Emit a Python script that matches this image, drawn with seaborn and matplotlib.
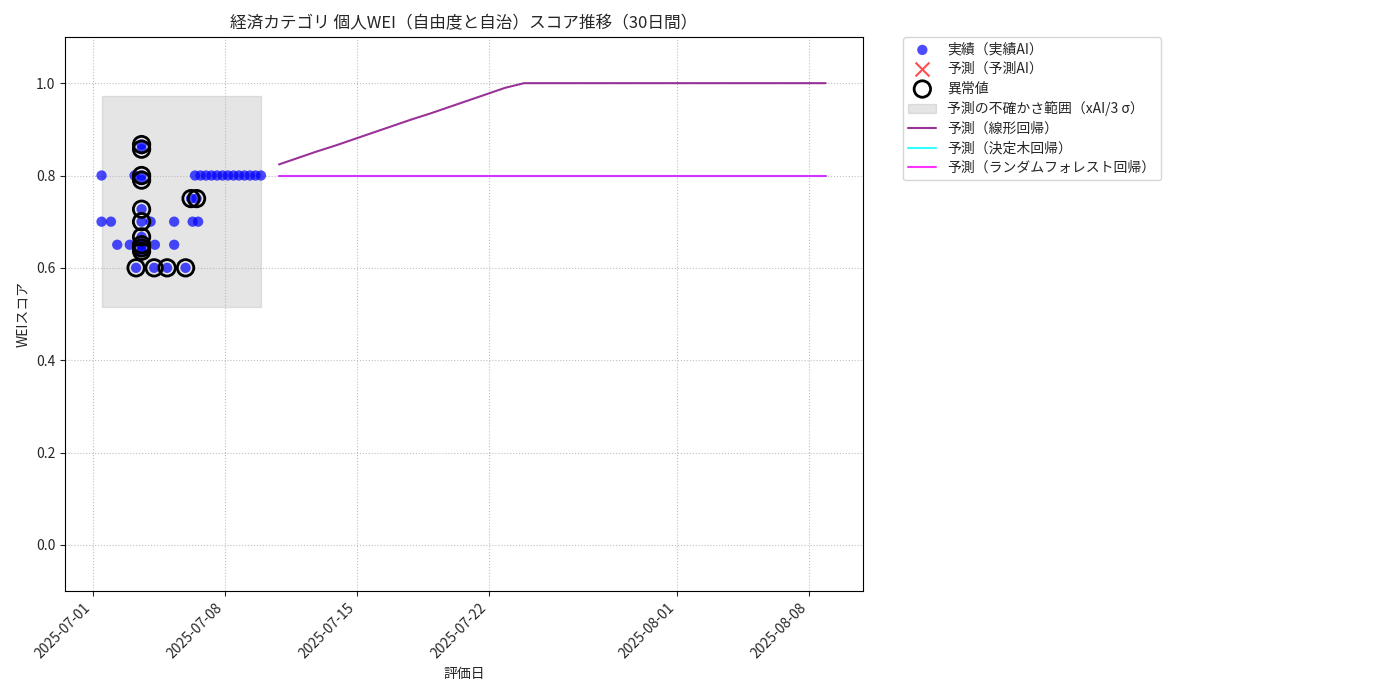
import pandas as pd
import seaborn as sns
import matplotlib.pyplot as plt
import matplotlib.dates as mdates

# actual scores (実績AI)
actual_dates = [
    '2025-07-01 11:00', '2025-07-01 11:00', '2025-07-01 23:00', '2025-07-02 07:00',
    '2025-07-02 23:00', '2025-07-03 07:00', '2025-07-03 05:00',
    '2025-07-03 14:00', '2025-07-03 14:00', '2025-07-03 14:00', '2025-07-03 14:00',
    '2025-07-03 14:00', '2025-07-03 14:00', '2025-07-03 14:00', '2025-07-03 14:00',
    '2025-07-03 14:00', '2025-07-03 14:00',
    '2025-07-04 01:30', '2025-07-04 06:00', '2025-07-04 07:00', '2025-07-04 22:30',
    '2025-07-05 07:30', '2025-07-05 07:30', '2025-07-05 22:00',
    '2025-07-06 05:00', '2025-07-06 07:00', '2025-07-06 12:00', '2025-07-06 14:00',
    '2025-07-06 10:00', '2025-07-06 17:00', '2025-07-07 00:00', '2025-07-07 07:00',
    '2025-07-07 14:00', '2025-07-07 21:00', '2025-07-08 04:00', '2025-07-08 11:00',
    '2025-07-08 18:00', '2025-07-09 01:00', '2025-07-09 08:00', '2025-07-09 15:00',
    '2025-07-09 22:00',
]
actual_scores = [
    0.80, 0.70, 0.70, 0.65,
    0.65, 0.60, 0.80,
    0.867, 0.857, 0.80, 0.79,
    0.727, 0.70, 0.667, 0.65,
    0.643, 0.636,
    0.70, 0.60, 0.65, 0.60,
    0.70, 0.65, 0.60,
    0.75, 0.70, 0.75, 0.70,
    0.80, 0.80, 0.80, 0.80,
    0.80, 0.80, 0.80, 0.80,
    0.80, 0.80, 0.80, 0.80,
    0.80,
]
is_anomaly = [
    False, False, False, False,
    False, True, False,
    True, True, True, True,
    True, True, True, True,
    True, True,
    False, True, False, True,
    False, False, True,
    True, False, True, False,
    False, False, False, False,
    False, False, False, False,
    False, False, False, False,
    False,
]

# uncertainty band (xAI / 3 sigma)
band_low = 0.515
band_high = 0.972

# 30-day forecasts
pred_dates = pd.date_range('2025-07-10 21:00', periods=30, freq='D')
pred_linear = [0.824, 0.838, 0.852, 0.865, 0.879, 0.893, 0.907, 0.921, 0.934, 0.948,
               0.962, 0.976, 0.990, 1.0, 1.0, 1.0, 1.0, 1.0, 1.0, 1.0,
               1.0, 1.0, 1.0, 1.0, 1.0, 1.0, 1.0, 1.0, 1.0, 1.0]
pred_tree = [0.8, 0.8, 0.8, 0.8, 0.8, 0.8, 0.8, 0.8, 0.8, 0.8,
             0.8, 0.8, 0.8, 0.8, 0.8, 0.8, 0.8, 0.8, 0.8, 0.8,
             0.8, 0.8, 0.8, 0.8, 0.8, 0.8, 0.8, 0.8, 0.8, 0.8]
pred_forest = [0.8, 0.8, 0.8, 0.8, 0.8, 0.8, 0.8, 0.8, 0.8, 0.8,
               0.8, 0.8, 0.8, 0.8, 0.8, 0.8, 0.8, 0.8, 0.8, 0.8,
               0.8, 0.8, 0.8, 0.8, 0.8, 0.8, 0.8, 0.8, 0.8, 0.8]

df = pd.DataFrame({'date': pd.to_datetime(actual_dates), 'score': actual_scores, 'anomaly': is_anomaly})
df_pred = pd.DataFrame({'date': pred_dates, 'linear': pred_linear, 'tree': pred_tree, 'forest': pred_forest})

sns.set_style('ticks')
plt.rcParams['font.family'] = ['Noto Sans CJK JP', 'DejaVu Sans']

fig, ax = plt.subplots(figsize=(14, 7), dpi=100)

sns.scatterplot(data=df, x='date', y='score', color='blue', alpha=0.7, s=55,
                edgecolor='none', label='実績（実績AI）', ax=ax, zorder=3)
ax.scatter([], [], marker='x', color='red', alpha=0.7, s=100, label='予測（予測AI）')
anom = df[df['anomaly']]
ax.scatter(anom['date'], anom['score'], s=140, facecolors='none', edgecolors='black',
           linewidths=2, label='異常値', zorder=4)

ax.fill_between([df['date'].min(), df['date'].max()], band_low, band_high,
                color='gray', alpha=0.2, label='予測の不確かさ範囲（xAI/3 σ）', zorder=0)

sns.lineplot(data=df_pred, x='date', y='linear', color='purple', alpha=0.8, linewidth=1.5,
             label='予測（線形回帰）', ax=ax)
sns.lineplot(data=df_pred, x='date', y='tree', color='cyan', alpha=0.8, linewidth=1.5,
             label='予測（決定木回帰）', ax=ax)
sns.lineplot(data=df_pred, x='date', y='forest', color='magenta', alpha=0.8, linewidth=1.5,
             label='予測（ランダムフォレスト回帰）', ax=ax)

ax.set_ylim(-0.1, 1.1)
ax.set_xlim(pd.Timestamp('2025-06-29 12:30'), pd.Timestamp('2025-08-10 20:30'))
ax.xaxis.set_major_formatter(mdates.DateFormatter('%Y-%m-%d'))
plt.setp(ax.get_xticklabels(), rotation=45, ha='right')
ax.grid(True, linestyle=':', color='#b0b0b0', alpha=0.8)
for s in ax.spines.values():
    s.set_color('black')

ax.set_title('経済カテゴリ 個人WEI（自由度と自治）スコア推移（30日間）', fontsize=12)
ax.set_xlabel('評価日')
ax.set_ylabel('WEIスコア')
ax.legend(bbox_to_anchor=(1.05, 1), loc='upper left', borderaxespad=0, labelspacing=0.4)

plt.subplots_adjust(left=65/1400, right=863/1400, top=1-37/700, bottom=1-591/700)
plt.savefig('out.png')
